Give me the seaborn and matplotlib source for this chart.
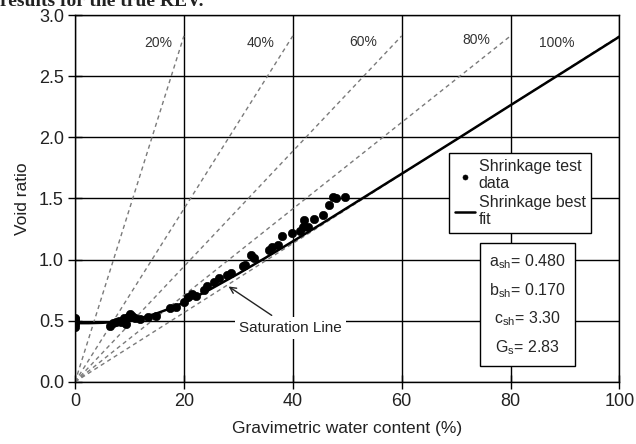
import numpy as np
import pandas as pd
import seaborn as sns
import matplotlib.pyplot as plt

# Datos
w_data = [0, 0, 0, 0, 0, 6.4, 7.0, 7.5, 8.0, 8.5, 9.0, 9.4, 9.8, 10.1, 10.5, 11.0, 12.0,
          13.4, 14.9, 17.5, 18.6, 20.0, 20.8, 21.5, 22.3, 23.7, 24.3, 25.5, 26.4, 27.9,
          28.6, 30.8, 31.3, 32.3, 32.9, 35.6, 36.2, 37.2, 38.1, 39.8, 41.3, 41.8, 42.1,
          42.7, 43.9, 45.5, 46.6, 47.3, 47.9, 49.5]
e_data = [0.45, 0.47, 0.49, 0.51, 0.52, 0.46, 0.48, 0.49, 0.50, 0.49, 0.52, 0.47, 0.53, 0.555,
          0.54, 0.52, 0.51, 0.53, 0.54, 0.60, 0.61, 0.65, 0.69, 0.72, 0.70, 0.75, 0.78, 0.82,
          0.848, 0.875, 0.89, 0.95, 0.957, 1.04, 1.01, 1.08, 1.106, 1.12, 1.19, 1.215,
          1.23, 1.27, 1.32, 1.27, 1.33, 1.365, 1.447, 1.515, 1.50, 1.515]

w_fit = [0, 2.5, 5, 7.5, 10, 12.5, 15, 17.5, 20, 22.5, 25, 30, 35, 40, 45, 50, 60, 70, 80, 90, 100]
e_fit = [0.480, 0.480, 0.483, 0.490, 0.504, 0.527, 0.560, 0.601, 0.649, 0.703, 0.761, 0.885,
         1.015, 1.149, 1.285, 1.424, 1.702, 1.981, 2.263, 2.543, 2.824]

# Líneas de saturación (extremos)
sat_labels = ['20%', '40%', '60%', '80%', '100%']
sat_w_end = [20, 40, 60, 80, 100]
sat_e_end = [2.83, 2.83, 2.83, 2.83, 2.83]
sat_label_w = [15.3, 34.1, 52.9, 73.7, 88.5]
sat_label_e = [2.77, 2.77, 2.78, 2.80, 2.77]

params_text = (r'a$_{\rm sh}$= 0.480' + '\n' + r'b$_{\rm sh}$= 0.170' + '\n'
               + r'c$_{\rm sh}$= 3.30' + '\n' + r'G$_{\rm s}$= 2.83')

sns.set_style('white')
plt.rcParams['font.family'] = ['Liberation Sans', 'DejaVu Sans']
plt.rcParams['mathtext.fontset'] = 'custom'
plt.rcParams['mathtext.rm'] = 'Liberation Sans'

fig = plt.figure(figsize=(6.36, 4.44), dpi=100)
ax = fig.add_axes([0.118, 0.140, 0.856, 0.826])

# Rejilla
ax.grid(True, color='black', linewidth=1.0)
ax.set_axisbelow(True)

# Líneas de saturación punteadas
for lab, we, ee, lw_, le_ in zip(sat_labels, sat_w_end, sat_e_end, sat_label_w, sat_label_e):
    ax.plot([0, we], [0, ee], color='#7a7a7a', linestyle=(0, (3, 2.5)), linewidth=1.0, zorder=2)
    ax.text(lw_, le_, lab, fontsize=10, color='#333333', ha='center', va='center', zorder=3,
            bbox=dict(facecolor='white', edgecolor='none', pad=1.5))

df_data = pd.DataFrame({'w': w_data, 'e': e_data})
df_fit = pd.DataFrame({'w': w_fit, 'e': e_fit})

sns.lineplot(data=df_fit, x='w', y='e', color='black', linewidth=1.8, ax=ax, zorder=4,
             label='Shrinkage best\nfit', sort=False)
sns.scatterplot(data=df_data, x='w', y='e', color='black', s=36, edgecolor='black',
                ax=ax, zorder=5, label='Shrinkage test\ndata')

# Anotación
ax.annotate('Saturation Line', xy=(28.2, 0.78), xytext=(39.6, 0.44),
            fontsize=11, color='#222222', ha='center', va='center', zorder=6,
            bbox=dict(facecolor='white', edgecolor='none', pad=3),
            arrowprops=dict(arrowstyle='->', color='#222222', lw=1.0, shrinkA=2, shrinkB=0))

# Caja de parámetros
ax.text(0.831, 0.211, params_text, transform=ax.transAxes, fontsize=11.5, ha='center', va='center',
        linespacing=1.7, zorder=6,
        bbox=dict(facecolor='white', edgecolor='black', linewidth=1.0, boxstyle='square,pad=0.6'))

# Leyenda
handles, labels = ax.get_legend_handles_labels()
order = [1, 0]
leg = ax.legend([handles[i] for i in order], [labels[i] for i in order],
                loc='upper left', bbox_to_anchor=(0.687, 0.624), borderaxespad=0,
                fontsize=11.5, frameon=True,
                fancybox=False, framealpha=1, edgecolor='black', handlelength=1.3,
                handletextpad=0.2, borderpad=0.35, labelspacing=0.25, markerscale=0.6)
leg.get_frame().set_linewidth(1.0)
leg.set_zorder(7)

ax.set_xlim(0, 100)
ax.set_ylim(0, 3.0)
ax.set_xticks([0, 20, 40, 60, 80, 100])
ax.set_yticks([0, 0.5, 1.0, 1.5, 2.0, 2.5, 3.0])
ax.set_yticklabels(['0.0', '0.5', '1.0', '1.5', '2.0', '2.5', '3.0'])
ax.tick_params(axis='both', direction='inout', length=10, width=1, color='black',
               labelsize=13, labelcolor='#222222', bottom=True, left=True, pad=3)
for sp in ax.spines.values():
    sp.set_color('black')
    sp.set_linewidth(1.0)

ax.set_xlabel('Gravimetric water content (%)', fontsize=12.5, color='#222222', labelpad=8)
ax.set_ylabel('Void ratio', fontsize=12.5, color='#222222', labelpad=6)

# Texto cortado en la parte superior
fig.text(0.0, 1.0 - 6 / 444, 'results for the true REV.', fontsize=14, fontweight='bold',
         family='Liberation Serif', va='baseline', ha='left', color='#222222')

fig.savefig('out.png', dpi=100)
